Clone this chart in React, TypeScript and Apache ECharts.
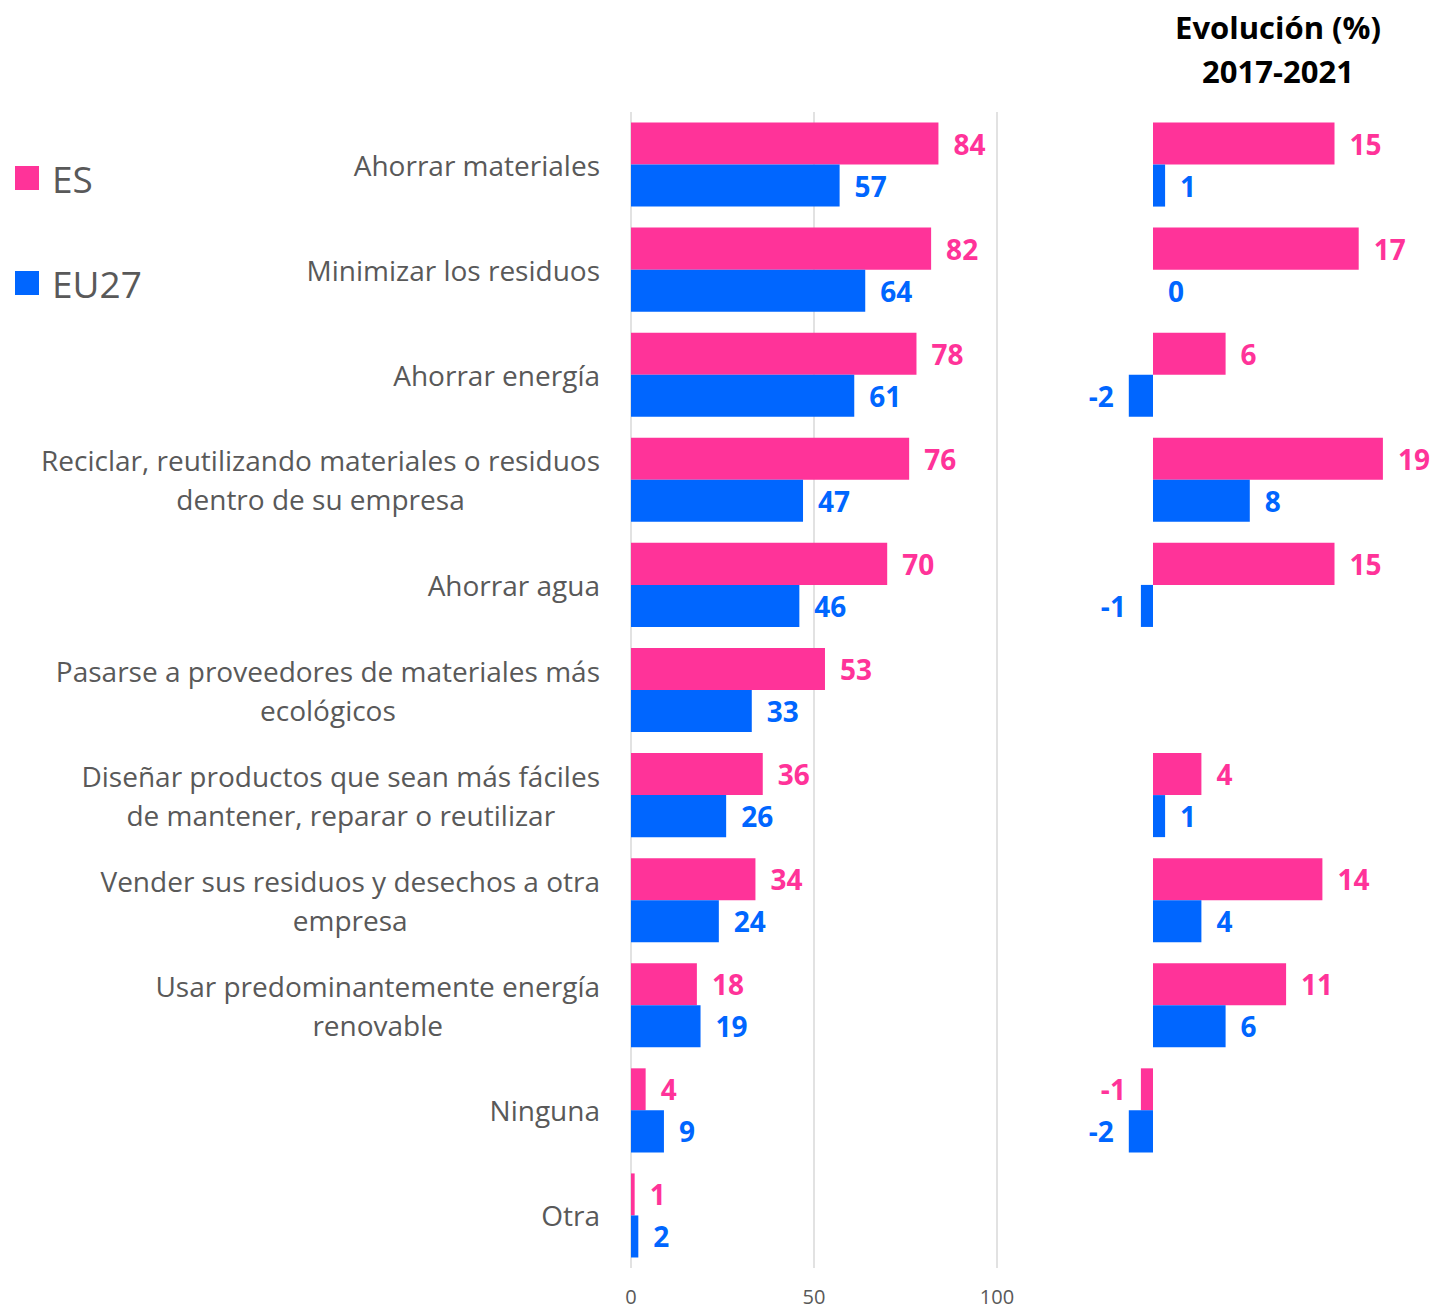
import React, { useEffect, useRef } from "react";
import * as echarts from "echarts";

const categories = [
  "Ahorrar materiales",
  "Minimizar los residuos",
  "Ahorrar energía",
  "Reciclar, reutilizando materiales o residuos\ndentro de su empresa",
  "Ahorrar agua",
  "Pasarse a proveedores de materiales más\necológicos",
  "Diseñar productos que sean más fáciles\nde mantener, reparar o reutilizar",
  "Vender sus residuos y desechos a otra\nempresa",
  "Usar predominantemente energía\nrenovable",
  "Ninguna",
  "Otra",
];

const esValues = [84, 82, 78, 76, 70, 53, 36, 34, 18, 4, 1];
const eu27Values = [57, 64, 61, 47, 46, 33, 26, 24, 19, 9, 2];
const esEvolution: (number | null)[] = [15, 17, 6, 19, 15, null, 4, 14, 11, -1, null];
const eu27Evolution: (number | null)[] = [1, 0, -2, 8, -1, null, 1, 4, 6, -2, null];

const xTicks = [0, 50, 100];

const PINK = "#FF3399";
const BLUE = "#0066FF";
const GREY = "#595959";
const FONT = "Open Sans";

function evoData(vals: (number | null)[]) {
  return vals.map((v) =>
    v === null
      ? null
      : v < 0
      ? { value: v, label: { position: "left" } }
      : v
  );
}

export default function App() {
  const ref = useRef<HTMLDivElement>(null);
  useEffect(() => {
    document.body.style.margin = "0";
    const chart = echarts.init(ref.current!, null, { renderer: "svg" });
    const top = 112;
    const bottom = 41;
    const valueLabel = (color: string) => ({
      show: true,
      position: "right",
      distance: 15,
      color,
      fontFamily: FONT,
      fontWeight: "bold",
      fontSize: 28,
    });
    chart.setOption({
      animation: false,
      backgroundColor: "#ffffff",
      textStyle: { fontFamily: FONT },
      title: {
        text: "Evolución (%)\n2017-2021",
        left: 1278,
        top: 5,
        padding: 0,
        textAlign: "center",
        textStyle: {
          fontFamily: FONT,
          fontWeight: "bold",
          fontSize: 31,
          lineHeight: 44,
          color: "#000000",
        },
      },
      legend: {
        data: ["ES", "EU27"],
        orient: "vertical",
        left: 15,
        top: 158,
        padding: 0,
        itemWidth: 24,
        itemHeight: 24,
        itemGap: 65,
        icon: "rect",
        textStyle: {
          fontFamily: FONT,
          fontSize: 37,
          lineHeight: 40,
          color: GREY,
          padding: [0, 0, 0, 8],
        },
      },
      grid: [
        { left: 631, width: 366, top, bottom, containLabel: false },
        { left: 1104.6, width: 290.4, top, bottom, containLabel: false },
      ],
      xAxis: [
        {
          gridIndex: 0,
          type: "value",
          min: xTicks[0],
          max: xTicks[xTicks.length - 1],
          interval: xTicks[1] - xTicks[0],
          axisLine: { show: false },
          axisTick: { show: false },
          splitLine: { show: true, lineStyle: { color: "#D9D9D9", width: 1.5 } },
          axisLabel: { color: GREY, fontSize: 20, margin: 18, fontFamily: FONT },
        },
        {
          gridIndex: 1,
          type: "value",
          min: -4,
          max: 20,
          show: false,
          splitLine: { show: false },
        },
      ],
      yAxis: [
        {
          gridIndex: 0,
          type: "category",
          data: categories,
          inverse: true,
          axisLine: { show: false },
          axisTick: { show: false },
          splitLine: { show: false },
          axisLabel: {
            margin: 31,
            color: GREY,
            fontSize: 28,
            lineHeight: 39,
            fontFamily: FONT,
            align: "right",
            formatter: (v: string) =>
              v
                .split("\n")
                .map((l) => `{c|${l}}`)
                .join("\n"),
            rich: {
              c: {
                align: "center",
                color: GREY,
                fontSize: 28,
                lineHeight: 39,
                fontFamily: FONT,
              },
            },
          },
        },
        {
          gridIndex: 1,
          type: "category",
          data: categories,
          inverse: true,
          show: false,
        },
      ],
      series: [
        {
          name: "ES",
          type: "bar",
          xAxisIndex: 0,
          yAxisIndex: 0,
          data: esValues,
          barGap: "0%",
          barCategoryGap: "20%",
          itemStyle: { color: PINK },
          label: valueLabel(PINK),
        },
        {
          name: "EU27",
          type: "bar",
          xAxisIndex: 0,
          yAxisIndex: 0,
          data: eu27Values,
          barGap: "0%",
          barCategoryGap: "20%",
          itemStyle: { color: BLUE },
          label: valueLabel(BLUE),
        },
        {
          name: "ES",
          type: "bar",
          xAxisIndex: 1,
          yAxisIndex: 1,
          data: evoData(esEvolution),
          barGap: "0%",
          barCategoryGap: "20%",
          itemStyle: { color: PINK },
          label: valueLabel(PINK),
        },
        {
          name: "EU27",
          type: "bar",
          xAxisIndex: 1,
          yAxisIndex: 1,
          data: evoData(eu27Evolution),
          barGap: "0%",
          barCategoryGap: "20%",
          itemStyle: { color: BLUE },
          label: valueLabel(BLUE),
        },
      ],
    });
    return () => chart.dispose();
  }, []);
  return <div ref={ref} style={{ width: 1437, height: 1309 }} />;
}
